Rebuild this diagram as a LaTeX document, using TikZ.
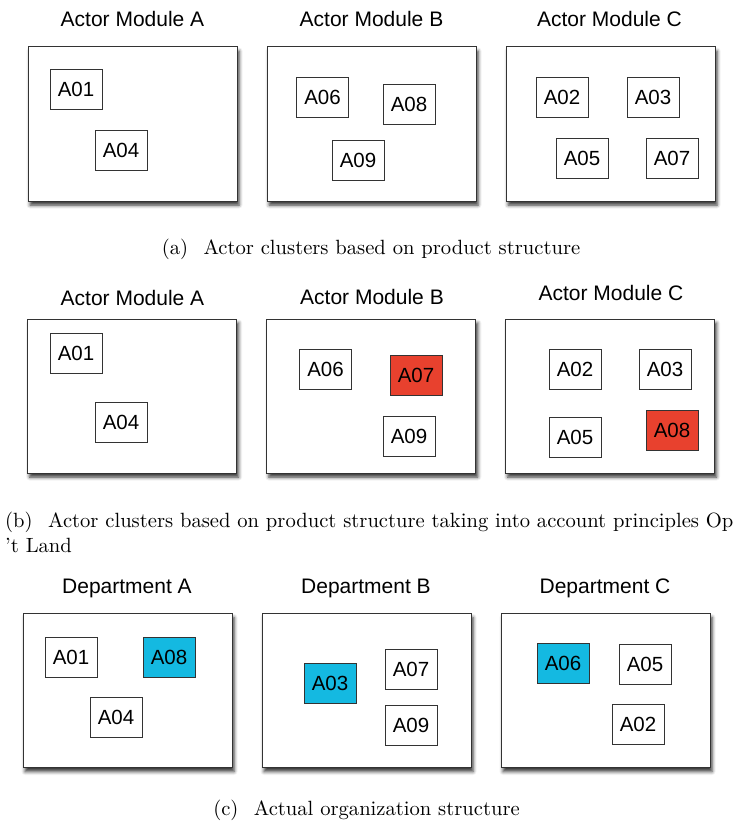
\documentclass[tikz,border=0pt]{standalone}
\usepackage{fontspec}
\usepackage{graphicx}
\newfontfamily\labelfont{Liberation Sans}
\usetikzlibrary{shadows.blur}

\definecolor{frame}{HTML}{333333}
\definecolor{movedred}{HTML}{E8412E}
\definecolor{deptcyan}{HTML}{14B9E1}

% caption text: 10pt design size, enlarged
\newcommand{\captext}[1]{\scalebox{2.06}{\fontsize{10}{12}\selectfont #1}}

\tikzset{
  panel/.style={draw=frame, line width=1pt, fill=white,
    minimum width=209pt, minimum height=154pt, inner sep=0pt,
    blur shadow={shadow xshift=2pt, shadow yshift=-4pt,
      shadow blur radius=3.5pt, shadow opacity=80}},
  actor/.style={draw=frame, line width=0.9pt, fill=white,
    minimum width=52pt, minimum height=40pt, inner sep=0pt,
    font=\labelfont\fontsize{20.5}{24}\selectfont},
  moved/.style={actor, fill=movedred},
  dept/.style={actor, fill=deptcyan},
  heading/.style={anchor=base, inner sep=0pt,
    font=\labelfont\fontsize{21}{25}\selectfont},
  caption/.style={anchor=base, inner sep=0pt},
}

\begin{document}
\begin{tikzpicture}[x=1pt, y=-1pt]
\useasboundingbox (0,0) rectangle (734,829);
\clip (0,0) rectangle (734,829);

% ---- (a) product structure ----
\node[heading] (ta1) at (132.5,27) {Actor Module A};
\node[heading] (ta2) at (371.5,27) {Actor Module B};
\node[heading] (ta3) at (609.5,27) {Actor Module C};

\node[panel] (pa1) at (132.5,124) {};
\node[panel] (pa2) at (371.5,124) {};
\node[panel] (pa3) at (610.5,124) {};

\node[actor] (a-01) at (76,89)    {A01};
\node[actor] (a-04) at (121,150)  {A04};
\node[actor] (a-06) at (322.5,97) {A06};
\node[actor] (a-08) at (409,104)  {A08};
\node[actor] (a-09) at (358,160)  {A09};
\node[actor] (a-02) at (562,97)   {A02};
\node[actor] (a-03) at (653,97)   {A03};
\node[actor] (a-05) at (582,158)  {A05};
\node[actor] (a-07) at (672,158)  {A07};

\node[caption] (ca) at (371,254) {\captext{(a)\hspace{0.75em}Actor clusters based on product structure}};

% ---- (b) product structure with principles ----
\node[heading] (tb1) at (132.5,305) {Actor Module A};
\node[heading] (tb2) at (372,304)   {Actor Module B};
\node[heading] (tb3) at (611,300)   {Actor Module C};

\node[panel] (pb1) at (132.2,396) {};
\node[panel] (pb2) at (371.3,396) {};
\node[panel] (pb3) at (610,396)   {};

\node[actor] (b-01) at (76,353.5)  {A01};
\node[actor] (b-04) at (121,422.7) {A04};
\node[actor] (b-06) at (325.5,369) {A06};
\node[moved] (b-07) at (416,375.3) {A07};
\node[actor] (b-09) at (409,436)   {A09};
\node[actor] (b-02) at (575,369.5) {A02};
\node[actor] (b-03) at (665,369.5) {A03};
\node[actor] (b-05) at (575,437)   {A05};
\node[moved] (b-08) at (672,430)   {A08};

\node[caption, anchor=base west] (cb1) at (5,527)
  {\captext{(b)\hspace{0.75em}Actor clusters based on product structure taking into account principles Op}};
\node[caption, anchor=base west] (cb2) at (5,552) {\captext{'t Land}};

% ---- (c) actual organization ----
\node[heading] (tc1) at (127,593) {Department A};
\node[heading] (tc2) at (366,593) {Department B};
\node[heading] (tc3) at (605,593) {Department C};

\node[panel] (pc1) at (127.5,690.5) {};
\node[panel] (pc2) at (366.5,690.5) {};
\node[panel] (pc3) at (605.5,690.5) {};

\node[actor] (c-01) at (71,657)    {A01};
\node[dept]  (c-08) at (169,657)   {A08};
\node[actor] (c-04) at (116,717)   {A04};
\node[dept]  (c-03) at (330,683)   {A03};
\node[actor] (c-07) at (411,669)   {A07};
\node[actor] (c-09) at (411,725.5) {A09};
\node[dept]  (c-06) at (563,663)   {A06};
\node[actor] (c-05) at (645,664)   {A05};
\node[actor] (c-02) at (638,724)   {A02};

\node[caption] (cc) at (366.5,815) {\captext{(c)\hspace{0.75em}Actual organization structure}};
\end{tikzpicture}
\end{document}
